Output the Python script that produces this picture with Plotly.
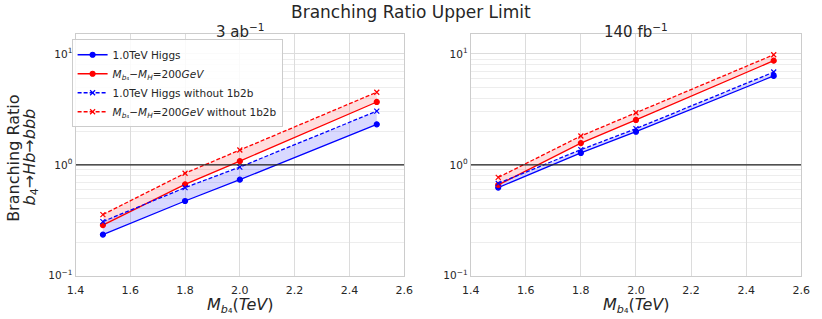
import plotly.graph_objects as go

mass = [1.5, 1.8, 2.0, 2.5]

# 3 ab^-1
l_higgs = [0.235, 0.472, 0.735, 2.32]
l_delta = [0.286, 0.667, 1.08, 3.69]
l_higgs_no = [0.308, 0.623, 0.955, 3.05]
l_delta_no = [0.356, 0.84, 1.36, 4.52]

# 140 fb^-1
r_higgs = [0.624, 1.28, 1.99, 6.34]
r_delta = [0.66, 1.57, 2.54, 8.7]
r_higgs_no = [0.68, 1.37, 2.12, 6.87]
r_delta_no = [0.77, 1.82, 2.95, 9.84]

x_ticks = [1.4, 1.6, 1.8, 2.0, 2.2, 2.4, 2.6]
y_ticks = [0.1, 1, 10]
y_ticklabels = ["10<sup>−1</sup>", "10<sup>0</sup>", "10<sup>1</sup>"]

names = ["1.0TeV Higgs",
         "<i>M</i><sub><i>b</i>₄</sub>−<i>M</i><sub><i>H</i></sub>=200<i>GeV</i>",
         "1.0TeV Higgs without 1b2b",
         "<i>M</i><sub><i>b</i>₄</sub>−<i>M</i><sub><i>H</i></sub>=200<i>GeV</i> without 1b2b"]

BLUE = "#0000ff"
RED = "#ff0000"
FONT = "DejaVu Sans"
TXT = "#262626"

fig = go.Figure()

def add_panel(xa, ya, higgs, delta, higgs_no, delta_no, showlegend):
    fig.add_trace(go.Scatter(x=mass, y=higgs, mode="lines", line=dict(width=0, color=BLUE),
                             showlegend=False, hoverinfo="skip", xaxis=xa, yaxis=ya))
    fig.add_trace(go.Scatter(x=mass, y=higgs_no, mode="lines", line=dict(width=0, color=BLUE),
                             fill="tonexty", fillcolor="rgba(0,0,255,0.15)",
                             showlegend=False, hoverinfo="skip", xaxis=xa, yaxis=ya))
    fig.add_trace(go.Scatter(x=mass, y=delta, mode="lines", line=dict(width=0, color=RED),
                             showlegend=False, hoverinfo="skip", xaxis=xa, yaxis=ya))
    fig.add_trace(go.Scatter(x=mass, y=delta_no, mode="lines", line=dict(width=0, color=RED),
                             fill="tonexty", fillcolor="rgba(255,0,0,0.13)",
                             showlegend=False, hoverinfo="skip", xaxis=xa, yaxis=ya))
    specs = [(higgs, BLUE, "solid", "circle", 5),
             (delta, RED, "solid", "circle", 5),
             (higgs_no, BLUE, "4px,2px", "x-thin-open", 5),
             (delta_no, RED, "4px,2px", "x-thin-open", 5)]
    for (vals, c, dash, sym, ms), nm in zip(specs, names):
        fig.add_trace(go.Scatter(x=mass, y=vals, mode="lines+markers", name=nm,
                                 line=dict(color=c, width=1.3, dash=dash),
                                 marker=dict(symbol=sym, size=ms, color=c,
                                             line=dict(color=c, width=1.2)),
                                 showlegend=showlegend, xaxis=xa, yaxis=ya))
    fig.add_trace(go.Scatter(x=[x_ticks[0], x_ticks[-1]], y=[1, 1], mode="lines",
                             line=dict(color="#222222", width=1.3), showlegend=False,
                             hoverinfo="skip", xaxis=xa, yaxis=ya))

add_panel("x", "y", l_higgs, l_delta, l_higgs_no, l_delta_no, True)
add_panel("x2", "y2", r_higgs, r_delta, r_higgs_no, r_delta_no, False)

xaxis_common = dict(range=[1.4, 2.6], tickvals=x_ticks, ticktext=[f"{v:.1f}" for v in x_ticks],
                    showgrid=True, gridcolor="#dcdcdc", gridwidth=1, zeroline=False,
                    showline=True, linecolor="#cccccc", mirror=True, ticks="",
                    ticklabelstandoff=4,
                    tickfont=dict(family=FONT, size=11, color=TXT))
yaxis_common = dict(type="log", range=[-1, 1.177], tickvals=y_ticks, ticktext=y_ticklabels,
                    showgrid=True, gridcolor="#dcdcdc", gridwidth=1, zeroline=False,
                    showline=True, linecolor="#cccccc", mirror=True, ticks="",
                    tickfont=dict(family=FONT, size=10.5, color=TXT),
                    minor=dict(dtick="D1", showgrid=True, gridcolor="#ededed", gridwidth=1))

H = 319.0
def py(px):
    return 1 - px / H

annotations = [
    dict(text="Branching Ratio Upper Limit", x=0.5, y=py(12), xref="paper", yref="paper",
         xanchor="center", yanchor="middle", showarrow=False,
         font=dict(family=FONT, size=17, color=TXT)),
    dict(text="3 ab<sup>−1</sup>", x=0.2875, y=py(32), xref="paper", yref="paper",
         xanchor="center", yanchor="middle", showarrow=False,
         font=dict(family=FONT, size=15, color=TXT)),
    dict(text="140 fb<sup>−1</sup>", x=0.78, y=py(32), xref="paper", yref="paper",
         xanchor="center", yanchor="middle", showarrow=False,
         font=dict(family=FONT, size=15, color=TXT)),
    dict(text="Branching Ratio", x=5 / 822, y=py(161), xref="paper", yref="paper",
         xanchor="center", yanchor="middle", textangle=-90, showarrow=False,
         font=dict(family=FONT, size=16, color=TXT)),
    dict(text="<i>b</i><sub>4</sub>→<i>Hb</i>→<i>bbb</i>", x=22 / 822, y=py(160),
         xref="paper", yref="paper", xanchor="center", yanchor="middle", textangle=-90,
         showarrow=False, font=dict(family=FONT, size=16, color=TXT)),
]
for cx in [0.2875, 0.78]:
    annotations.append(dict(text="<i>M</i><sub><i>b</i>₄</sub>(<i>TeV</i>)", x=cx, y=py(311),
                            xref="paper", yref="paper", xanchor="center", yanchor="middle",
                            showarrow=False, font=dict(family=FONT, size=16, color=TXT)))

fig.update_layout(
    width=822, height=319,
    margin=dict(l=0, r=0, t=0, b=0),
    paper_bgcolor="white", plot_bgcolor="white",
    font=dict(family=FONT, color=TXT),
    xaxis=dict(domain=[68 / 822, 404 / 822], anchor="y", **xaxis_common),
    xaxis2=dict(domain=[472 / 822, 810 / 822], anchor="y2", **xaxis_common),
    yaxis=dict(domain=[py(281), py(35)], anchor="x", **yaxis_common),
    yaxis2=dict(domain=[py(281), py(35)], anchor="x2", **yaxis_common),
    legend=dict(x=64 / 822, y=py(40), xanchor="left", yanchor="top",
                bgcolor="rgba(255,255,255,0.85)", bordercolor="#cccccc", borderwidth=1,
                font=dict(family=FONT, size=10.5, color=TXT), traceorder="normal",
                tracegroupgap=0, itemwidth=30),
    annotations=annotations,
)

fig.write_html("out.html", config={"displayModeBar": False},
               post_script="document.body.style.margin='0px';document.body.style.overflow='hidden';")
